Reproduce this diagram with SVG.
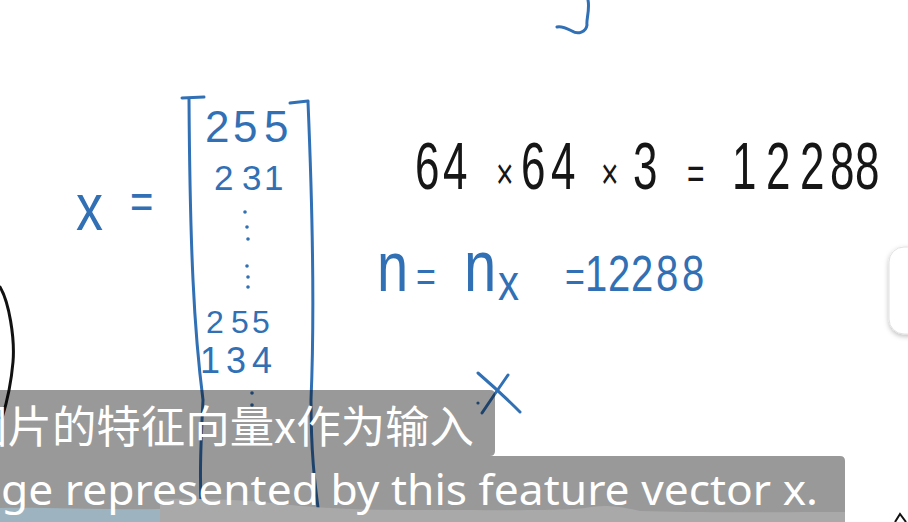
<svg xmlns="http://www.w3.org/2000/svg" width="908" height="522" viewBox="0 0 908 522">
  <defs>
    <style>
      .hw { font-family: "Liberation Sans", "DejaVu Sans", sans-serif; }
      .blue { fill: #3170b4; }
      .black { fill: #161616; }
      .bs { fill: none; stroke: #3170b4; stroke-width: 3; stroke-linecap: round; stroke-linejoin: round; }
      .ks { fill: none; stroke: #111; stroke-width: 3; stroke-linecap: round; }
      .box { fill: #000; fill-opacity: 0.4; }
      .sub { fill: #ffffff; }
      .dot { fill: #3170b4; }
    </style>
    <filter id="sh" x="-50%" y="-20%" width="200%" height="140%">
      <feDropShadow dx="0" dy="2" stdDeviation="2.5" flood-color="#000" flood-opacity="0.25"/>
    </filter>
  </defs>
  <rect width="908" height="522" fill="#ffffff"/>

  <g id="hook">
    <path class="bs" d="M588,0 C590,10 586,20 587,25 C586,32 578,35 572,31 C566,28 560,26 557,27"/>
  </g>

  <g id="left-arc">
    <path class="ks" d="M0,287 C9,302 15,338 13,362 C11,385 7,402 2,418"/>
  </g>

  <g id="vector-x">
    <text class="hw blue" font-size="54" transform="translate(0,230) scale(1,1.25)"><tspan x="76">x</tspan><tspan x="130" font-size="40" dy="-9.6">=</tspan></text>
    <path class="bs" d="M182,98 L204,97"/>
    <path class="bs" d="M189,99 C190,250 194,330 203,400 C201,440 199,480 202,522"/>
    <path class="bs" d="M290,103 L308,101"/>
    <path class="bs" d="M308,102 C313,220 314,330 311,400 C311,450 314,480 320,522"/>
    <text class="hw blue" font-size="44" y="142"><tspan x="205 233 264">255</tspan></text>
    <text class="hw blue" font-size="35" y="190"><tspan x="214 242 264">231</tspan></text>
    <circle class="dot" cx="245" cy="212" r="1.8"/>
    <circle class="dot" cx="247" cy="227" r="1.8"/>
    <circle class="dot" cx="248" cy="239" r="1.8"/>
    <circle class="dot" cx="247" cy="266" r="1.8"/>
    <circle class="dot" cx="248" cy="277" r="1.8"/>
    <circle class="dot" cx="248" cy="287" r="1.8"/>
    <text class="hw blue" font-size="32" y="333"><tspan x="206 231 252">255</tspan></text>
    <text class="hw blue" font-size="36" y="373"><tspan x="200 226 252">134</tspan></text>
    <circle class="dot" cx="252" cy="393" r="1.8"/>
    <circle class="dot" cx="252" cy="405" r="1.8"/>
  </g>

  <g id="size-eq">
    <text class="hw black" font-size="44" transform="translate(0,189) scale(1,1.5)"><tspan x="415 443">64</tspan><tspan x="496" font-size="30">×</tspan><tspan x="521 551">64</tspan><tspan x="601" font-size="30">×</tspan><tspan x="633">3</tspan><tspan x="687" font-size="30">=</tspan><tspan x="732 766 800 830 855">12288</tspan></text>
  </g>

  <g id="n-eq">
    <text class="hw blue" font-size="56" transform="translate(0,291) scale(1,1.25)"><tspan x="377">n</tspan><tspan x="416" font-size="34">=</tspan><tspan x="464" font-size="58">n</tspan><tspan x="498" font-size="42" dy="7.2">x</tspan><tspan x="565" font-size="34" dy="-7.2">=</tspan><tspan x="585 608 631 656 682" font-size="40">12288</tspan></text>
  </g>

  <g id="x-mark">
    <path class="bs" d="M478,373 Q500,392 520,412"/>
    <path class="bs" d="M508,375 Q494,395 482,413"/>
    <circle class="dot" cx="478" cy="403" r="1.6"/>
  </g>

  <g id="side-panel">
    <rect x="889" y="247" width="40" height="87" rx="15" fill="#ffffff" stroke="#e2e2e2" stroke-width="1" filter="url(#sh)"/>
  </g>

  <g id="corner-mark">
    <path d="M895,522 L900,514 L906,522" fill="none" stroke="#111" stroke-width="2"/>
  </g>

  <g id="subtitles">
    <path class="box" d="M0,390 H490 Q495,390 495,395 V451 Q495,456 490,456 H0 Z"/>
    <path class="box" d="M0,456 H840 Q845,456 845,461 V522 H0 Z"/>
    <path d="M0,508 C40,507 100,510 160,509 L160,522 L0,522 Z" fill="#9db4c0"/>
    <path d="M160,499 C200,498 240,500 262,502 C300,506 330,510 420,510 C500,510 560,511 585,508 C600,505 615,505 640,511 C700,513 780,512 845,512 L845,522 L160,522 Z" fill="#a9a9a9"/>
    <text class="sub" x="0" y="0" font-size="44" transform="translate(-37,443) scale(1.01,1)" font-family="'Noto Sans CJK SC', 'Noto Sans', sans-serif">图片的特征向量x作为输入</text>
    <text class="sub" x="1" y="505" font-size="42" textLength="817" lengthAdjust="spacingAndGlyphs" font-family="'Noto Sans', 'Open Sans', sans-serif">ge represented by this feature vector x.</text>
  </g>
</svg>
